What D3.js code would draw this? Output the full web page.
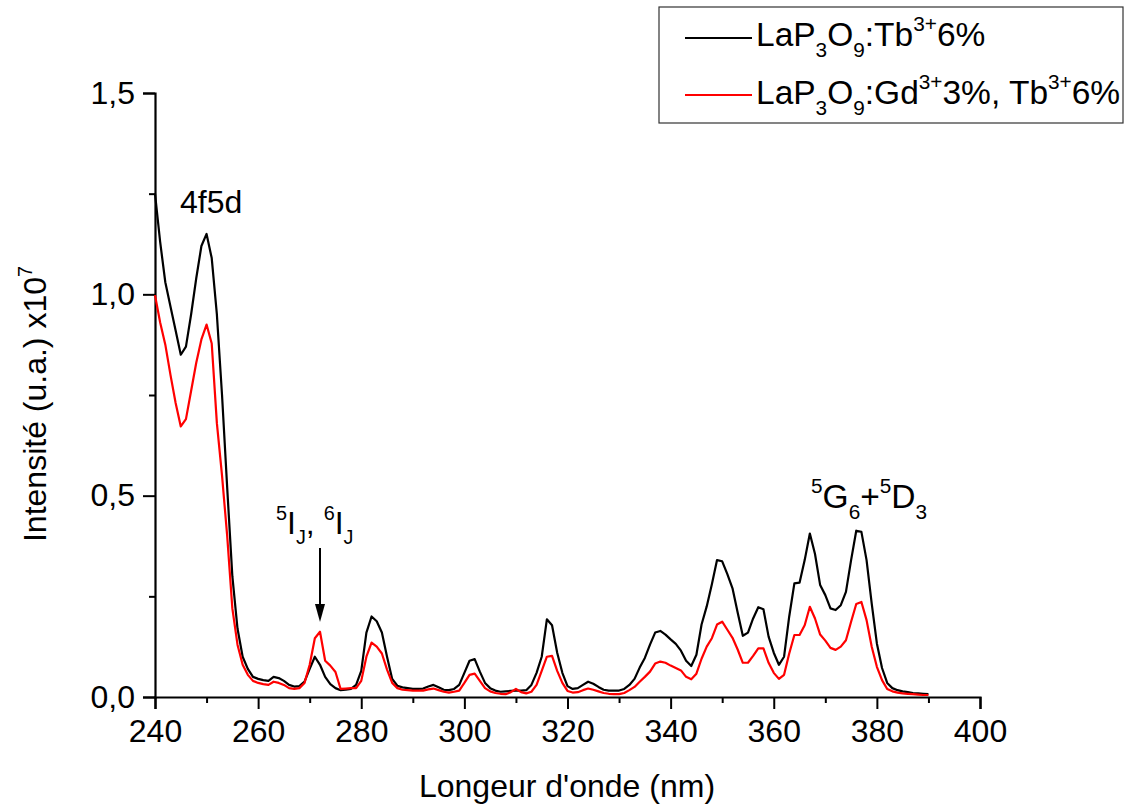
<!DOCTYPE html>
<html>
<head>
<meta charset="utf-8">
<script src="https://cdn.jsdelivr.net/npm/d3@7"></script>
<style>
  body { margin: 0; background: #fff; }
  svg { display: block; font-family: "Liberation Sans", Arial, sans-serif; }
</style>
</head>
<body>
<svg id="chart" width="1126" height="808"></svg>
<script>
// wavelength grid (nm), one sample per nm
const wavelengths = d3.range(240, 391);

// LaP3O9:Tb3+ 6%  (x10^7)
const tbOnly = [
  1.25, 1.13, 1.03, 0.97, 0.91, 0.85, 0.87, 0.95, 1.04, 1.12,
  1.15, 1.09, 0.95, 0.75, 0.52, 0.30, 0.17, 0.10, 0.07, 0.05,
  0.045, 0.042, 0.04, 0.05, 0.047, 0.04, 0.03, 0.026, 0.027, 0.038,
  0.07, 0.10, 0.08, 0.05, 0.032, 0.022, 0.017, 0.018, 0.02, 0.03,
  0.065, 0.16, 0.20, 0.188, 0.16, 0.10, 0.045, 0.028, 0.024, 0.022,
  0.02, 0.02, 0.021, 0.026, 0.03, 0.024, 0.018, 0.017, 0.02, 0.03,
  0.06, 0.09, 0.094, 0.063, 0.035, 0.022, 0.016, 0.013, 0.014, 0.015,
  0.016, 0.016, 0.017, 0.03, 0.06, 0.10, 0.193, 0.178, 0.11, 0.06,
  0.027, 0.02, 0.022, 0.03, 0.038, 0.033, 0.025, 0.018, 0.016, 0.016,
  0.016, 0.02, 0.03, 0.045, 0.073, 0.097, 0.13, 0.16, 0.164, 0.155,
  0.143, 0.132, 0.115, 0.09, 0.077, 0.105, 0.18, 0.225, 0.28, 0.34,
  0.337, 0.305, 0.27, 0.21, 0.152, 0.16, 0.195, 0.223, 0.218, 0.15,
  0.11, 0.08, 0.10, 0.20, 0.282, 0.284, 0.34, 0.406, 0.355, 0.278,
  0.253, 0.22, 0.216, 0.228, 0.261, 0.34, 0.413, 0.41, 0.34, 0.232,
  0.133, 0.072, 0.035, 0.022, 0.017, 0.014, 0.012, 0.01, 0.009, 0.008,
  0.007
];

// LaP3O9:Gd3+ 3%, Tb3+ 6%  (x10^7)
const gdTb = [
  0.998, 0.93, 0.875, 0.80, 0.73, 0.672, 0.69, 0.76, 0.83, 0.888,
  0.925, 0.878, 0.68, 0.55, 0.40, 0.22, 0.13, 0.08, 0.055, 0.04,
  0.035, 0.032, 0.03, 0.038, 0.035, 0.03, 0.022, 0.02, 0.022, 0.035,
  0.08, 0.146, 0.162, 0.09, 0.078, 0.062, 0.02, 0.021, 0.022, 0.022,
  0.04, 0.10, 0.135, 0.125, 0.108, 0.068, 0.035, 0.022, 0.018, 0.017,
  0.016, 0.016, 0.016, 0.019, 0.021, 0.017, 0.013, 0.011, 0.013, 0.016,
  0.035, 0.055, 0.058, 0.04, 0.022, 0.014, 0.01, 0.008, 0.007, 0.012,
  0.02, 0.012, 0.009, 0.013, 0.03, 0.065, 0.10, 0.102, 0.065, 0.035,
  0.015, 0.011, 0.012, 0.017, 0.021, 0.018, 0.014, 0.01, 0.008, 0.007,
  0.007, 0.01, 0.017, 0.025, 0.038, 0.05, 0.063, 0.083, 0.088, 0.085,
  0.078, 0.072, 0.066, 0.05, 0.044, 0.058, 0.095, 0.125, 0.146, 0.18,
  0.187, 0.167, 0.147, 0.118, 0.085, 0.085, 0.102, 0.121, 0.121, 0.085,
  0.06, 0.045, 0.055, 0.108, 0.154, 0.154, 0.178, 0.224, 0.195, 0.155,
  0.14, 0.122, 0.117, 0.125, 0.141, 0.187, 0.231, 0.236, 0.191, 0.125,
  0.075, 0.042, 0.02, 0.014, 0.011, 0.009, 0.008, 0.007, 0.006, 0.005,
  0.005
];

const xMajor = [240, 260, 280, 300, 320, 340, 360, 380, 400];
const xMinor = [250, 270, 290, 310, 330, 350, 370, 390];
const yMajor = [0, 0.5, 1.0, 1.5];
const yMinor = [0.25, 0.75, 1.25];

const svg = d3.select("#chart");
const fs = 32;
const legendFs = 33.5;

const x = d3.scaleLinear().domain([240, 400]).range([155, 980]);
const y = d3.scaleLinear().domain([0, 1.5]).range([697, 93]);

// writes text with sub / superscript pieces: parts = [[str, "n"|"sub"|"sup"], ...]
function richText(g, parts, px, py, size, anchor) {
  const t = g.append("text")
      .attr("x", px)
      .attr("y", py)
      .attr("font-size", size)
      .attr("text-anchor", anchor || "start")
      .attr("fill", "#000");
  let shift = 0;
  parts.forEach(([s, kind]) => {
    let target = 0;
    if (kind === "sub") target = size * 0.32;
    if (kind === "sup") target = -size * 0.45;
    t.append("tspan")
        .attr("dy", target - shift)
        .attr("font-size", kind === "n" ? size : size * 0.62)
        .text(s);
    shift = target;
  });
  return t;
}

// axes
const xAxis = svg.append("g")
    .attr("transform", `translate(0,${y(0)})`)
    .call(d3.axisBottom(x).tickValues(xMajor).tickSize(12).tickPadding(8).tickFormat(d3.format("d")));
svg.append("g")
    .attr("transform", `translate(0,${y(0)})`)
    .call(d3.axisBottom(x).tickValues(xMinor).tickSize(6).tickFormat(""))
    .select(".domain").remove();

const yAxis = svg.append("g")
    .attr("transform", `translate(${x(240)},0)`)
    .call(d3.axisLeft(y).tickValues(yMajor).tickSize(12).tickPadding(8)
      .tickFormat(d => d3.format(".1f")(d).replace(".", ",")));
svg.append("g")
    .attr("transform", `translate(${x(240)},0)`)
    .call(d3.axisLeft(y).tickValues(yMinor).tickSize(6).tickFormat(""))
    .select(".domain").remove();

svg.selectAll(".domain").attr("stroke-width", 2.2).attr("stroke", "#000");
svg.selectAll(".tick line").attr("stroke-width", 2).attr("stroke", "#000");
svg.selectAll(".tick text")
    .attr("font-size", fs)
    .attr("font-family", "Liberation Sans, Arial, sans-serif")
    .attr("fill", "#000");
xAxis.selectAll(".tick text").attr("dy", "0.78em");

// spectra
const line = d3.line()
    .x((d, i) => x(wavelengths[i]))
    .y(d => y(d));

svg.append("path")
    .datum(tbOnly)
    .attr("fill", "none")
    .attr("stroke", "#000")
    .attr("stroke-width", 2.2)
    .attr("stroke-linejoin", "round")
    .attr("d", line);

svg.append("path")
    .datum(gdTb)
    .attr("fill", "none")
    .attr("stroke", "#ff0000")
    .attr("stroke-width", 2.2)
    .attr("stroke-linejoin", "round")
    .attr("d", line);

// axis titles
svg.append("text")
    .attr("x", 567)
    .attr("y", 797)
    .attr("text-anchor", "middle")
    .attr("font-size", fs)
    .text("Longeur d'onde (nm)");

const yTitle = svg.append("g").attr("transform", "translate(46,404) rotate(-90)");
richText(yTitle, [["Intensité (u.a.) x10", "n"], ["7", "sup"]], 0, 0, fs, "middle");

// annotations
richText(svg, [["4f5d", "n"]], 180, 213, fs);
richText(svg, [["5", "sup"], ["I", "n"], ["J", "sub"], [", ", "n"], ["6", "sup"], ["I", "n"], ["J", "sub"]], 276, 534, fs);
richText(svg, [["5", "sup"], ["G", "n"], ["6", "sub"], ["+", "n"], ["5", "sup"], ["D", "n"], ["3", "sub"]], 811, 508, legendFs);

svg.append("line")
    .attr("x1", x(272)).attr("x2", x(272))
    .attr("y1", 548).attr("y2", 606)
    .attr("stroke", "#000").attr("stroke-width", 2);
svg.append("path")
    .attr("d", `M${x(272) - 5},604 L${x(272) + 5},604 L${x(272)},622 Z`)
    .attr("fill", "#000");

// legend
const legend = svg.append("g");
legend.append("rect")
    .attr("x", 659).attr("y", 7)
    .attr("width", 464).attr("height", 116)
    .attr("fill", "#fff")
    .attr("stroke", "#333")
    .attr("stroke-width", 1.2);

const legendRows = [
  { color: "#000", ly: 38, ty: 46,
    parts: [["LaP", "n"], ["3", "sub"], ["O", "n"], ["9", "sub"], [":Tb", "n"], ["3+", "sup"], ["6%", "n"]] },
  { color: "#ff0000", ly: 95, ty: 104,
    parts: [["LaP", "n"], ["3", "sub"], ["O", "n"], ["9", "sub"], [":Gd", "n"], ["3+", "sup"], ["3%, Tb", "n"], ["3+", "sup"], ["6%", "n"]] }
];
legendRows.forEach(r => {
  legend.append("line")
      .attr("x1", 685).attr("x2", 752)
      .attr("y1", r.ly).attr("y2", r.ly)
      .attr("stroke", r.color).attr("stroke-width", 2.2);
  richText(legend, r.parts, 756, r.ty, legendFs);
});
</script>
</body>
</html>
